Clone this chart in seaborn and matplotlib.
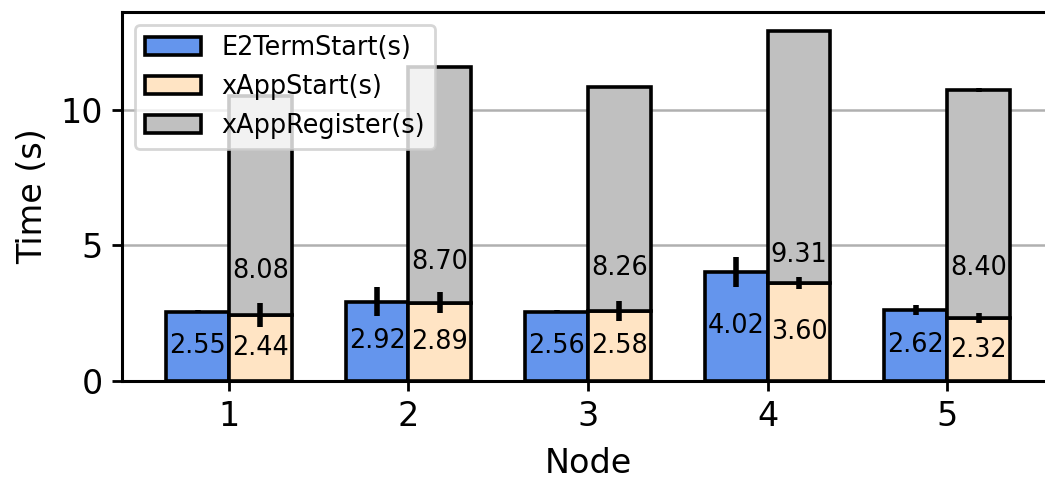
import matplotlib
matplotlib.use("Agg")
import matplotlib.pyplot as plt
import matplotlib.patches as mpatches
import numpy as np
import pandas as pd
import seaborn as sns

# Per-node timing measurements (seconds)
nodes = ["1", "2", "3", "4", "5"]
e2term_start = [2.55, 2.92, 2.56, 4.02, 2.62]
e2term_err = [0.06, 0.54, 0.05, 0.55, 0.17]
xapp_start = [2.44, 2.89, 2.58, 3.60, 2.32]
xapp_start_err = [0.44, 0.38, 0.36, 0.22, 0.18]
xapp_register = [8.08, 8.70, 8.26, 9.31, 8.40]
xapp_register_err = [0.03, 0.03, 0.03, 0.03, 0.08]
series_names = ["E2TermStart(s)", "xAppStart(s)", "xAppRegister(s)"]

# Height at which each xAppRegister value is written
register_label_y = [4.07, 4.40, 4.17, 4.65, 4.17]

colors = {"E2TermStart(s)": "#6495ED", "xAppStart(s)": "#FFE4C4",
          "xAppRegister(s)": "#C0C0C0"}

sns.set_theme(style="ticks")
plt.rcParams["font.family"] = ["DejaVu Sans"]
plt.rcParams["axes.edgecolor"] = "black"
plt.rcParams["axes.labelcolor"] = "black"
plt.rcParams["text.color"] = "black"
plt.rcParams["xtick.color"] = "black"
plt.rcParams["ytick.color"] = "black"

df = pd.DataFrame({
    "Node": nodes * 2,
    "Series": [series_names[0]] * len(nodes) + [series_names[1]] * len(nodes),
    "Time": e2term_start + xapp_start,
})

fig = plt.figure(figsize=(5.225, 2.395), dpi=200)
ax = fig.add_axes([0.1167, 0.2046, 0.892, 0.7704])

width = 0.7
half = width / 2
sns.barplot(data=df, x="Node", y="Time", hue="Series",
            hue_order=series_names[:2], order=nodes,
            palette=[colors[s] for s in series_names[:2]],
            saturation=1, width=width, errorbar=None,
            edgecolor="black", linewidth=1.3, legend=False, ax=ax, zorder=2)

x = np.arange(len(nodes))
x_left = x - half / 2
x_right = x + half / 2

# Stacked registration time on top of the xApp start bar
ax.bar(x_right, xapp_register, width=half, bottom=xapp_start,
       color=colors["xAppRegister(s)"], edgecolor="black",
       linewidth=1.3, zorder=2)

err_kw = dict(fmt="none", ecolor="black", elinewidth=2.0, capsize=0, zorder=3)
ax.errorbar(x_left, e2term_start, yerr=e2term_err, **err_kw)
ax.errorbar(x_right, xapp_start, yerr=xapp_start_err, **err_kw)
ax.errorbar(x_right, np.add(xapp_start, xapp_register),
            yerr=xapp_register_err, **err_kw)

for cont in ax.containers[:2]:
    vals = [p.get_height() for p in cont]
    ax.bar_label(cont, labels=[f"{v:.2f}" for v in vals],
                 label_type="center", fontsize=9.2, color="black", zorder=4)

for xi, yi, v in zip(x_right, register_label_y, xapp_register):
    ax.text(xi, yi, f"{v:.2f}", ha="center", va="center", fontsize=9.2,
            color="black", zorder=4)

ax.set_xlim(-0.596, 4.596)
ax.set_ylim(0, 13.6)
ax.set_yticks([0, 5, 10])
ax.set_xlabel("Node", fontsize=12, labelpad=5)
ax.set_ylabel("Time (s)", fontsize=12, labelpad=4)
ax.tick_params(axis="both", labelsize=12, length=3.5, width=1.0)
ax.yaxis.grid(True, color="#b0b0b0", linewidth=0.9)
ax.set_axisbelow(True)
for sp in ax.spines.values():
    sp.set_linewidth(1.1)
    sp.set_color("black")

handles = [mpatches.Patch(facecolor=colors[s], edgecolor="black",
                          linewidth=1.3, label=s) for s in series_names]
ax.legend(handles=handles, loc="upper left", fontsize=9.2,
          handlelength=2.2, framealpha=0.8)

fig.savefig("out.png", dpi=200)
